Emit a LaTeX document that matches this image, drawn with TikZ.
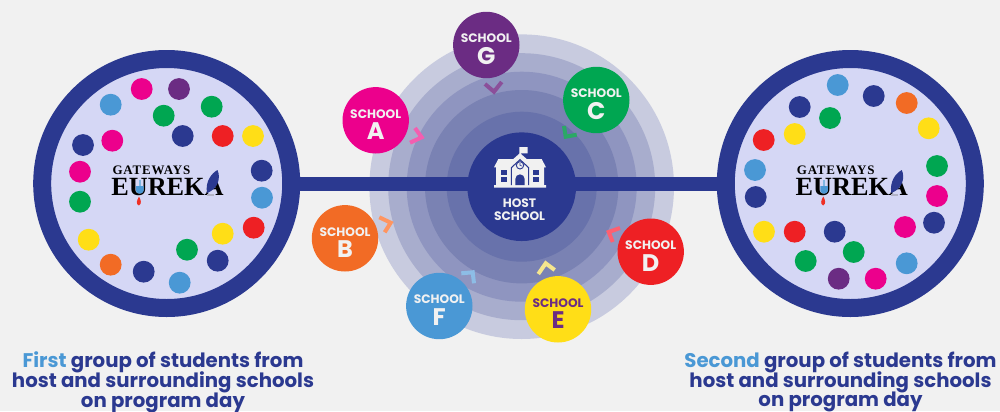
\documentclass[tikz,border=0pt]{standalone}
\usepackage{fontspec}
\setmainfont{Poppins}
\newfontfamily\logofont{Liberation Serif}
\newfontfamily\logowide{Liberation Serif}[LetterSpace=6]
\usetikzlibrary{backgrounds}
\definecolor{navy}{HTML}{2B3990}
\definecolor{pagegray}{HTML}{F1F1F1}
\definecolor{lavender}{HTML}{D5D7F5}
\definecolor{sblue}{HTML}{4A98D5}
\definecolor{smagenta}{HTML}{EC008C}
\definecolor{sorange}{HTML}{F26B25}
\definecolor{sred}{HTML}{EE2024}
\definecolor{sgreen}{HTML}{00A651}
\definecolor{syellow}{HTML}{FFDE17}
\definecolor{spurple}{HTML}{6B2C83}
\tikzset{
	bigring/.style={circle,draw=navy,line width=13.5pt,fill=lavender,minimum size=186.75pt,inner sep=0pt,outer sep=0pt},
	ringnode/.style={circle,minimum size=#1*1.5pt,inner sep=0pt,outer sep=0pt},
	schoolnode/.style={circle,fill=#1,minimum size=49.8pt,inner sep=0pt,outer sep=0pt,align=center,text=pagegray,font=\fontsize{9.2}{10}\selectfont\bfseries},
	barline/.style={navy,line width=10.5pt},
	chevron/.style={line width=3pt},
	caption/.style={align=center,text=navy,font=\fontsize{14.8}{14.2}\selectfont\bfseries}
}
\newcommand{\schooltext}[1]{\rule{0pt}{13pt}SCHOOL\\[2.5pt]{\fontsize{18}{14}\selectfont #1}}
% logo in the middle of a big circle
\newcommand{\eurekalogo}{
	\node[anchor=base west,inner sep=0pt,font=\logowide\bfseries\fontsize{9.75}{10}\selectfont] (gw) at (112.3,174.3) {GATEWAYS};
	\node[anchor=base west,inner sep=0pt,font=\logofont\bfseries\fontsize{19.7}{20}\selectfont] (ek) at (111,195.7) {EUREKA};
	\fill[sblue] (136,186) -- (143.5,186) -- (143.5,191) .. controls (142.5,194.5) and (137,194.5) .. (136,191) -- cycle;
	\fill[sblue!70] (138.5,180) rectangle (141,186);
	\fill[sred!80!sorange] (138.8,205.5) .. controls (135.5,204) and (137,200) .. (139,196.5) .. controls (141,200) and (142,204) .. (138.8,205.5) -- cycle;
	\fill[navy] (207,193) .. controls (205,181) and (212,173) .. (217.5,170) .. controls (221,178) and (218,189) .. (207,193) -- cycle;
	\fill[lavender!60!gray] (207,193.5) rectangle (214,195.5);
}
\begin{document}
\begin{tikzpicture}[x=0.75pt,y=-0.75pt]
	\useasboundingbox (0,0) rectangle (1000,411);

	% big circles
	\node[bigring] (firstgroup) at (166.7,183.5) {};
	\node[bigring] (secondgroup) at (850.3,183.5) {};
	\node[circle,fill=navy,minimum size=81.5pt,inner sep=0pt,outer sep=0pt] (host) at (521.7,186.7) {};

	\begin{scope}[on background layer]
		\fill[pagegray] (0,0) rectangle (1000,411);
		\foreach \r/\c [count=\i] in {152.3/C8CBDF,133.5/A8ADCD,115/8F95C0,96.7/7A82B3,75/6872AB}{
			\definecolor{ringcol}{HTML}{\c}
			\node[ringnode=\r,fill=ringcol] (ring\i) at (host) {};
		}
		\draw[barline] (firstgroup.center) -- (firstgroup.center -| host.center);
		\draw[barline] (secondgroup.center) -- (secondgroup.center -| host.center);
	\end{scope}

	% students, first group
	\foreach \x/\y/\c in {141.7/89/smagenta,179/89/spurple,110.7/104.7/sblue,163.7/115.7/sgreen,
		211.7/106.7/sgreen,182.7/136/navy,222.7/136/sred,253/136/syellow,83/145/navy,
		112.3/140.7/smagenta,80/171.7/smagenta,261.7/170.7/navy,262/197.7/sblue,80/201.7/sgreen,
		253.7/227.7/sred,222.7/233.7/syellow,88.7/239.7/syellow,187/249.7/sgreen,217.7/260.7/navy,
		110.7/264.7/sorange,143.7/271.7/navy,179.7/282.7/sblue}
		\fill[\c] (\x,\y) circle (10.9);

	% students, second group
	\foreach \x/\y/\c in {837.7/85/sblue,873.7/96/navy,906.7/103/sorange,799.7/107/navy,
		830/118/sgreen,928.7/128.3/syellow,794.7/134/syellow,763.7/140/sred,937/166/sgreen,
		755/170/sblue,937/196/smagenta,755.7/197/navy,934/222.7/navy,905/227/smagenta,
		764/231.7/syellow,794.7/231.7/sred,834.7/231.7/navy,853.7/252/sgreen,805.7/261/sgreen,
		906.7/263.3/sblue,838.7/278.7/spurple,875.7/278.7/smagenta}
		\fill[\c] (\x,\y) circle (10.9);

	\eurekalogo
	\begin{scope}[shift={(684.3,0)}]
		\eurekalogo
	\end{scope}

	% schools
	\node[schoolnode=spurple] (schoolG) at (486.3,45) {\schooltext{G}};
	\node[schoolnode=sgreen] (schoolC) at (596.3,100) {\schooltext{C}};
	\node[schoolnode=smagenta] (schoolA) at (375.7,120.3) {\schooltext{A}};
	\node[schoolnode=sorange] (schoolB) at (345,238.3) {\schooltext{B}};
	\node[schoolnode=sblue] (schoolF) at (439.3,306) {\schooltext{F}};
	\node[schoolnode=syellow,text=spurple] (schoolE) at (558,309.3) {\schooltext{E}};
	\node[schoolnode=sred] (schoolD) at (650.7,251.7) {\schooltext{D}};

	% chevrons
	\draw[chevron,color={rgb,255:red,139;green,79;blue,154}] (485,84) -- (494,91.7) -- (501.7,82);
	\draw[chevron,color={rgb,255:red,43;green,168;blue,102}] (564,126) -- (565.7,136.7) -- (576.7,134.7);
	\draw[chevron,color={rgb,255:red,244;green,94;blue,176}] (415,128) -- (421.7,137.3) -- (410,142.7);
	\draw[chevron,color={rgb,255:red,255;green,149;blue,96}] (379.3,217.3) -- (390.7,222.7) -- (384.7,232.3);
	\draw[chevron,color={rgb,255:red,141;green,189;blue,230}] (461.3,273.3) -- (472.7,272.3) -- (474,283.3);
	\draw[chevron,color={rgb,255:red,245;green,230;blue,142}] (538.3,274) -- (545.7,263.3) -- (554.7,270);
	\draw[chevron,color={rgb,255:red,255;green,96;blue,112}] (620,228) -- (608.7,232) -- (612.7,242);

	% school building
	\begin{scope}[shift={(480,135)},scale=1/3]
		\fill[pagegray] (42,97) -- (55,72) -- (100,72) -- (118,56) -- (118,36) -- (143,36) -- (143,55) -- (122,55)
			-- (122,56) -- (140,72) -- (185,72) -- (198,97) -- (192,97) -- (192,150) -- (198,150) -- (198,158)
			-- (42,158) -- (42,150) -- (48,150) -- (48,97) -- cycle;
		\draw[navy,line width=0.8pt] (94,150) -- (94,98) -- (120,74) -- (146,98) -- (146,150);
		\fill[navy] (106,150) -- (106,132) arc (180:360:14) -- (134,150) -- cycle;
		\draw[navy,line width=0.7pt,fill=pagegray] (120,91) circle (11);
		\draw[navy,line width=0.4pt] (120,84) -- (120,91) -- (126,93);
		\foreach \wx in {63,160}{
			\fill[navy] (\wx,105) rectangle (\wx+17,120);
			\fill[navy] (\wx,125) rectangle (\wx+17,140);
		}
	\end{scope}
	\node[align=center,text=pagegray,font=\fontsize{9.2}{9.75}\selectfont\bfseries,inner sep=0pt] (hostlabel) at (519.5,209.5) {HOST\\SCHOOL};

	% captions
	\node[caption] (firstcap) at (163,382) {\textcolor{sblue}{First} group of students from\\[-1.5pt]host and surrounding schools\\[-1.5pt]on program day};
	\node[caption] (secondcap) at (840.5,382) {\textcolor{sblue}{Second} group of students from\\[-1.5pt]host and surrounding schools\\[-1.5pt]on program day};
\end{tikzpicture}
\end{document}
